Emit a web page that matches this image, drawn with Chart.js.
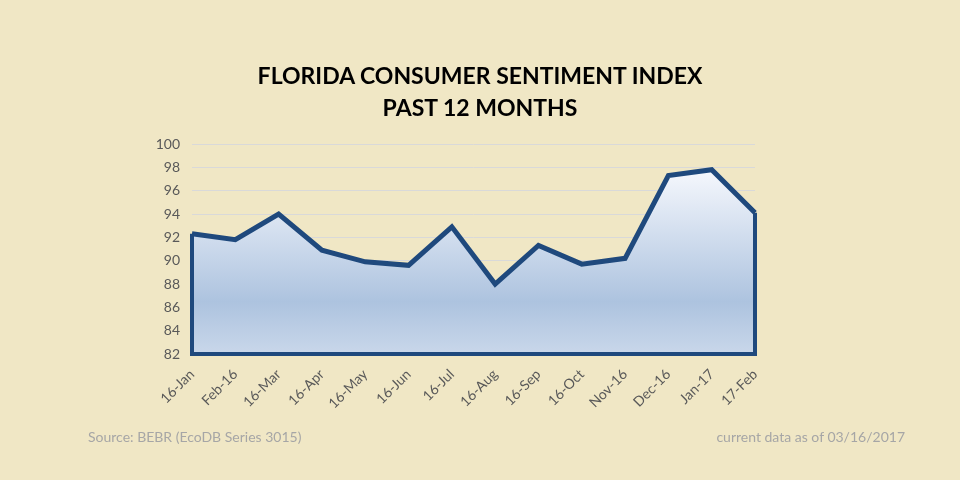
<!DOCTYPE html>
<html>
<head>
<meta charset="utf-8">
<script src="https://cdn.jsdelivr.net/npm/chart.js@4"></script>
<style>
  html, body { margin: 0; padding: 0; background: #f0e7c5; }
  #wrap { position: relative; width: 960px; height: 480px; }
  .title { position: absolute; left: 0; width: 960px; text-align: center; font-family: Lato, sans-serif; font-weight: bold; font-size: 23px; color: #000; }
  .note { position: absolute; top: 428px; font-family: Lato, sans-serif; font-size: 14px; color: #a6a6a6; }
</style>
</head>
<body>
<div id="wrap">
  <canvas id="sentiment" width="960" height="480"></canvas>
  <div class="title" style="top:61px">FLORIDA CONSUMER SENTIMENT INDEX</div>
  <div class="title" style="top:93px">PAST 12 MONTHS</div>
  <div class="note" style="left:88px">Source: BEBR (EcoDB Series 3015)</div>
  <div class="note" style="right:55px">current data as of 03/16/2017</div>
</div>
<script>
const months = ['16-Jan', 'Feb-16', '16-Mar', '16-Apr', '16-May', '16-Jun', '16-Jul', '16-Aug', '16-Sep', '16-Oct', 'Nov-16', 'Dec-16', 'Jan-17', '17-Feb']
const sentiment = [92.3, 91.8, 94.0, 90.9, 89.9, 89.6, 92.9, 88.0, 91.3, 89.7, 90.2, 97.3, 97.8, 94.1]
const yMin = 82
const yMax = 100

// closes the filled area on the left, bottom and right like the original
const outline = {
  id: 'outline',
  afterDatasetsDraw(chart) {
    const x = chart.scales.x
    const y = chart.scales.y
    const ctx = chart.ctx
    const last = sentiment.length - 1
    ctx.save()
    ctx.strokeStyle = '#1f497d'
    ctx.lineWidth = 4
    ctx.lineJoin = 'miter'
    ctx.beginPath()
    ctx.moveTo(x.getPixelForValue(0), y.getPixelForValue(sentiment[0]))
    ctx.lineTo(x.getPixelForValue(0), y.getPixelForValue(yMin))
    ctx.lineTo(x.getPixelForValue(last), y.getPixelForValue(yMin))
    ctx.lineTo(x.getPixelForValue(last), y.getPixelForValue(sentiment[last]))
    ctx.stroke()
    ctx.restore()
  }
}

new Chart('sentiment', {
  type: 'line',
  data: {
    labels: months,
    datasets: [{
      data: sentiment,
      borderColor: '#1f497d',
      borderWidth: 5,
      borderJoinStyle: 'miter',
      pointRadius: 0,
      tension: 0,
      fill: 'start',
      backgroundColor: ctx => {
        const area = ctx.chart.chartArea
        if (!area) return '#c5d4e9'
        const g = ctx.chart.ctx.createLinearGradient(0, area.top + 24, 0, area.bottom)
        g.addColorStop(0, '#f6f8fd')
        g.addColorStop(0.72, '#adc3df')
        g.addColorStop(1, '#c9d7ea')
        return g
      }
    }]
  },
  options: {
    responsive: false,
    animation: false,
    layout: {
      padding: { left: 132, right: 205, top: 144, bottom: 66 }
    },
    plugins: {
      legend: { display: false },
      tooltip: { enabled: false }
    },
    scales: {
      x: {
        offset: false,
        grid: { display: false },
        border: { display: false },
        ticks: {
          color: '#595959',
          font: { family: 'Lato', size: 14 },
          minRotation: 45,
          maxRotation: 45,
          autoSkip: false,
          padding: 4
        },
        afterFit: scale => { scale.height = 60 }
      },
      y: {
        min: yMin,
        max: yMax,
        grid: { color: '#d9d9d9', lineWidth: 1, drawTicks: false },
        border: { display: false },
        ticks: {
          stepSize: 2,
          color: '#595959',
          font: { family: 'Lato', size: 14 },
          padding: 12
        },
        afterFit: scale => { scale.width = 60 }
      }
    }
  },
  plugins: [outline]
})
</script>
</body>
</html>
